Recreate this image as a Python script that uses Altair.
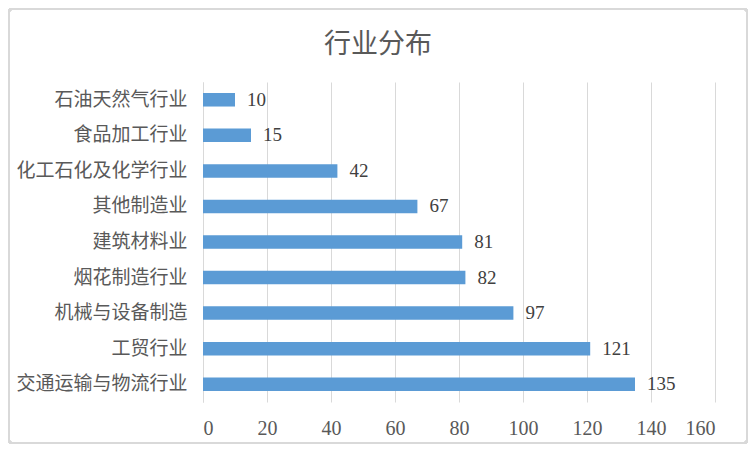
import altair as alt
import pandas as pd

categories = ["石油天然气行业", "食品加工行业", "化工石化及化学行业", "其他制造业",
              "建筑材料业", "烟花制造行业", "机械与设备制造", "工贸行业", "交通运输与物流行业"]
values = [10, 15, 42, 67, 81, 82, 97, 121, 135]
x_ticks = [0, 20, 40, 60, 80, 100, 120, 140, 160]

df = pd.DataFrame({"category": categories, "value": values})

W, H = 512, 320
PL, PT, PR, PB = 195, 74, 33, 42
SERIF = "Liberation Serif"

y_enc = alt.Y("category:N", sort=categories, title=None,
              scale=alt.Scale(paddingInner=0.62, paddingOuter=0.31),
              axis=alt.Axis(labelFont="Noto Sans CJK SC", labelFontSize=19,
                            labelColor="#595959", labelPadding=16, ticks=False,
                            domainColor="#d9d9d9", grid=False))
x_enc = alt.X("value:Q", title=None,
              scale=alt.Scale(domain=[0, 160], nice=False),
              axis=alt.Axis(values=x_ticks, labelFont=SERIF, labelFontSize=20,
                            labelColor="#595959", labelPadding=16, ticks=False,
                            domain=False, gridColor="#d9d9d9", grid=True))

bars = alt.Chart(df).mark_bar(color="#5B9BD5").encode(x=x_enc, y=y_enc)
labels = alt.Chart(df).mark_text(align="left", baseline="middle", dx=12,
                                 font=SERIF, fontSize=19,
                                 color="#404040").encode(
    x="value:Q", y=alt.Y("category:N", sort=categories), text="value:Q")

border = alt.Chart(df).mark_rect(fill=None, stroke="#d9d9d9", strokeWidth=2,
                                 cornerRadius=3).encode(
    x=alt.value(-PL + 1), x2=alt.value(W + PR - 1),
    y=alt.value(-PT + 1), y2=alt.value(H + PB - 1))

chart = alt.layer(border, bars, labels).properties(
    width=W, height=H,
    autosize=alt.AutoSizeParams(type="none"),
    padding={"left": PL, "top": PT, "right": PR, "bottom": PB},
    title=alt.TitleParams("行业分布", font="Noto Sans CJK SC", fontSize=27,
                          fontWeight="normal", color="#595959", frame="group",
                          anchor="middle", dx=-81, offset=-78, baseline="bottom"),
).configure_view(stroke=None).configure_axisX(labelFont=SERIF, labelFontSize=20)

chart.save("out.html", embed_options={"renderer": "svg", "actions": False})
